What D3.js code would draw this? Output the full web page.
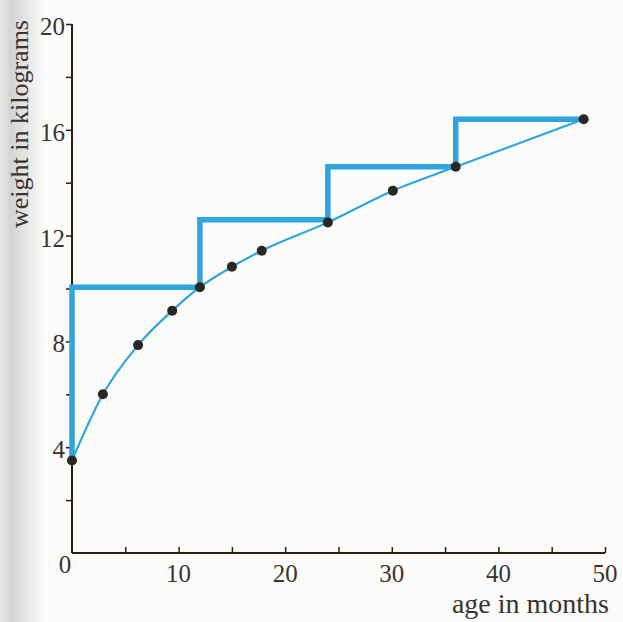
<!DOCTYPE html>
<html>
<head>
<meta charset="utf-8">
<script src="https://cdn.jsdelivr.net/npm/d3@7"></script>
<style>
  body { margin: 0; background: #fbfbfa; }
  text { font-family: "Liberation Serif", "DejaVu Serif", serif; fill: #3a3330; }
</style>
</head>
<body>
<script>
const w = 623;
const h = 622;

// measured weights (age in months, weight in kg)
const ages = [0, 2.9, 6.2, 9.4, 12, 15, 17.8, 24, 30.1, 36, 48];
const weights = [3.5, 6.0, 7.86, 9.16, 10.05, 10.82, 11.43, 12.5, 13.7, 14.6, 16.4];

// yearly stair values
const yearAges = [0, 12, 24, 36, 48];
const yearWeights = [3.5, 10.05, 12.6, 14.6, 16.4];

const xTicks = [0, 5, 10, 15, 20, 25, 30, 35, 40, 45, 50];
const xLabels = [10, 20, 30, 40, 50];
const yTicks = [2, 4, 6, 8, 10, 12, 14, 16, 18, 20];
const yLabels = [4, 8, 12, 16, 20];

const svg = d3.select("body").append("svg").attr("width", w).attr("height", h);

// page shadow on the left
const grad = svg.append("defs").append("linearGradient").attr("id", "shade");
grad.append("stop").attr("offset", "0%").attr("stop-color", "#e8e8e8");
grad.append("stop").attr("offset", "25%").attr("stop-color", "#d4d4d4");
grad.append("stop").attr("offset", "100%").attr("stop-color", "#fbfbfa");
svg.append("rect").attr("width", 44).attr("height", h).attr("fill", "url(#shade)");

const xScale = d3.scaleLinear().domain([0, 50]).range([72, 605]);
const yScale = d3.scaleLinear().domain([0, 20]).range([553, 24]);

const ink = "#2b1e16";
const blue = "#2ea6dc";

// axes
const xAxis = d3.axisTop(xScale).tickValues(xTicks).tickSize(6).tickFormat("");
const yAxis = d3.axisLeft(yScale).tickValues(yTicks).tickSize(6).tickFormat("");

const gx = svg.append("g").attr("transform", "translate(0," + yScale(0) + ")").call(xAxis);
const gy = svg.append("g").attr("transform", "translate(" + xScale(0) + ",0)").call(yAxis);
gx.select(".domain").attr("d", "M" + xScale(0) + ",0H" + xScale(50));
gy.select(".domain").attr("d", "M0," + yScale(0) + "V" + yScale(20));
[gx, gy].forEach((g) => {
  g.select(".domain").attr("stroke", ink).attr("stroke-width", 2);
  g.selectAll(".tick line").attr("stroke", ink).attr("stroke-width", 1.5);
});
gx.selectAll(".tick").filter((d) => d === 0).remove();

// tick labels
svg.selectAll(".xl")
  .data(xLabels)
  .enter()
  .append("text")
  .attr("x", (d) => xScale(d))
  .attr("y", yScale(0) + 29)
  .attr("text-anchor", "middle")
  .style("font-size", "25px")
  .text((d) => d);

svg.selectAll(".yl")
  .data(yLabels)
  .enter()
  .append("text")
  .attr("x", xScale(0) - 7)
  .attr("y", (d) => yScale(d) + 11)
  .attr("text-anchor", "end")
  .style("font-size", "25px")
  .text((d) => d);

svg.append("text")
  .attr("x", xScale(0) - 7)
  .attr("y", yScale(0) + 20)
  .attr("text-anchor", "middle")
  .style("font-size", "25px")
  .text("0");

// axis titles
svg.append("text")
  .attr("x", 609)
  .attr("y", 613)
  .attr("text-anchor", "end")
  .style("font-size", "28px")
  .text("age in months");

svg.append("text")
  .attr("transform", "translate(28,20) rotate(-90)")
  .attr("text-anchor", "end")
  .style("font-size", "26px")
  .text("weight in kilograms");

// stair line
const stair = d3.line()
  .x((d, i) => xScale(yearAges[i]))
  .y((d) => yScale(d))
  .curve(d3.curveStepBefore);

svg.append("path")
  .attr("d", stair(yearWeights))
  .attr("fill", "none")
  .attr("stroke", blue)
  .attr("stroke-width", 5.5)
  .attr("stroke-linejoin", "miter");

// growth curve
const curve = d3.line()
  .x((d, i) => xScale(ages[i]))
  .y((d) => yScale(d))
  .curve(d3.curveMonotoneX);

svg.append("path")
  .attr("d", curve(weights))
  .attr("fill", "none")
  .attr("stroke", blue)
  .attr("stroke-width", 2.2);

// dots
svg.selectAll("circle")
  .data(weights)
  .enter()
  .append("circle")
  .attr("cx", (d, i) => xScale(ages[i]))
  .attr("cy", (d) => yScale(d))
  .attr("r", 5)
  .attr("fill", "#2a2624");
</script>
</body>
</html>
